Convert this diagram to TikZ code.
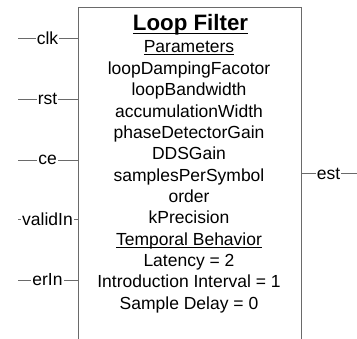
\documentclass[tikz,border=0pt]{standalone}
\usepackage{fontspec}
\setmainfont{Liberation Sans}
\definecolor{edge}{HTML}{6A6A6A}
\newcommand\myul[3]{\setbox0\hbox{#1}\rlap{\rule[#2]{\wd0}{#3}}\box0}
\begin{document}
\begin{tikzpicture}[x=1pt,y=-1pt,
  boxline/.style={draw=edge,line width=1pt},
  wire/.style={draw=edge,line width=0.9pt},
  portlabel/.style={fill=white,inner sep=1pt,font=\fontsize{17.5}{20}\selectfont},
  bodytext/.style={inner sep=0pt,anchor=base,font=\fontsize{17.5}{20}\selectfont},
  titletext/.style={inner sep=0pt,anchor=base,font=\fontsize{22.3}{26}\selectfont\bfseries}]
\useasboundingbox (0,0) rectangle (357,339);
\clip (0,0) rectangle (357,339);
% main block (open towards the bottom of the picture)
\node[boxline,anchor=north west,minimum width=223pt,minimum height=360pt,inner sep=0pt] (box) at (78,7.3) {};
% body text
\node[titletext] (title) at (190.5,30.5) {\myul{Loop Filter}{-3.6pt}{1.3pt}};
\node[bodytext] (t1) at (189,53) {\myul{Parameters}{-2.4pt}{0.9pt}};
\node[bodytext] (t2) at (189,74.5) {loopDampingFacotor};
\node[bodytext] (t3) at (189,95.8) {loopBandwidth};
\node[bodytext] (t4) at (189,117.2) {accumulationWidth};
\node[bodytext] (t5) at (189,138.5) {phaseDetectorGain};
\node[bodytext] (t6) at (189,159.8) {DDSGain};
\node[bodytext] (t7) at (189,181.2) {samplesPerSymbol};
\node[bodytext] (t8) at (189,202.5) {order};
\node[bodytext] (t9) at (189,223.8) {kPrecision};
\node[bodytext] (t10) at (189,245.2) {\myul{Temporal Behavior}{-2.4pt}{0.9pt}};
\node[bodytext] (t11) at (189,266.5) {Latency = 2};
\node[bodytext] (t12) at (189,287.8) {Introduction Interval = 1};
\node[bodytext] (t13) at (189,309.2) {Sample Delay = 0};
% ports
\foreach \nm/\lab/\yy in {clk/clk/38, rst/rst/99, ce/ce/160, valid/validIn/219.5, erin/erIn/280}{
  \coordinate (\nm s) at (18,\yy);
  \draw[wire] (\nm s) -- (\nm s -| box.west);
  \node[portlabel] (\nm) at (47.5,\yy) {\lab};
}
\coordinate (este) at (357,173.5);
\draw[wire] (este -| box.east) -- (este);
\node[portlabel] (est) at (328.5,173.5) {est};
\end{tikzpicture}
\end{document}
